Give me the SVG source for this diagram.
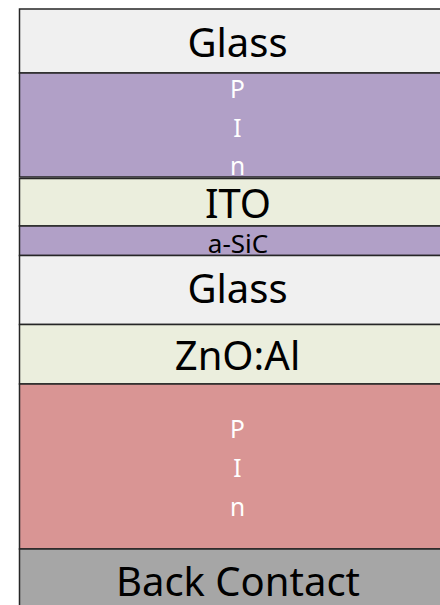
<svg xmlns="http://www.w3.org/2000/svg" width="440" height="605" viewBox="0 0 440 605">
<style>
.layer{stroke:#262626;stroke-width:1.5}
.glass{fill:#f0f0f0}
.purple{fill:#b1a0c7}
.green{fill:#ebeedd}
.pink{fill:#d99594}
.gray{fill:#a6a6a6}
text{font-family:"Noto Sans","Open Sans",sans-serif;text-anchor:middle}
.big{font-size:40px;fill:#000}
.mid{font-size:26px;fill:#000}
.small{font-size:24.5px;fill:#fff}
</style>
<rect x="0" y="0" width="440" height="605" fill="#fff"/>
<g id="glass-top"><rect class="layer glass" x="19.5" y="9" width="440" height="64"/><text class="big" x="237.5" y="57">Glass</text></g>
<g id="pin-top"><rect class="layer purple" x="19.5" y="73" width="440" height="104"/><text class="small" x="237.5" y="97.5">P</text><text class="small" x="237.5" y="137.3">I</text><text class="small" x="237.5" y="175">n</text></g>
<g id="ito"><rect class="layer green" x="19.5" y="178.5" width="440" height="47.5"/><text class="big" x="238" y="218.3">ITO</text></g>
<g id="asic"><rect class="layer purple" x="19.5" y="226" width="440" height="29.5"/><text class="mid" x="238" y="253">a-SiC</text></g>
<g id="glass-mid"><rect class="layer glass" x="19.5" y="255.5" width="440" height="69"/><text class="big" x="237.5" y="303">Glass</text></g>
<g id="zno"><rect class="layer green" x="19.5" y="324.5" width="440" height="59.5"/><text class="big" x="237.5" y="370">ZnO:Al</text></g>
<g id="pin-bottom"><rect class="layer pink" x="19.5" y="384" width="440" height="165"/><text class="small" x="237.5" y="438.3">P</text><text class="small" x="237.5" y="477.3">I</text><text class="small" x="237.5" y="515.5">n</text></g>
<g id="back-contact"><rect class="layer gray" x="19.5" y="549" width="440" height="70"/><text class="big" x="238" y="596">Back Contact</text></g>
<g id="connectors"></g>
</svg>
